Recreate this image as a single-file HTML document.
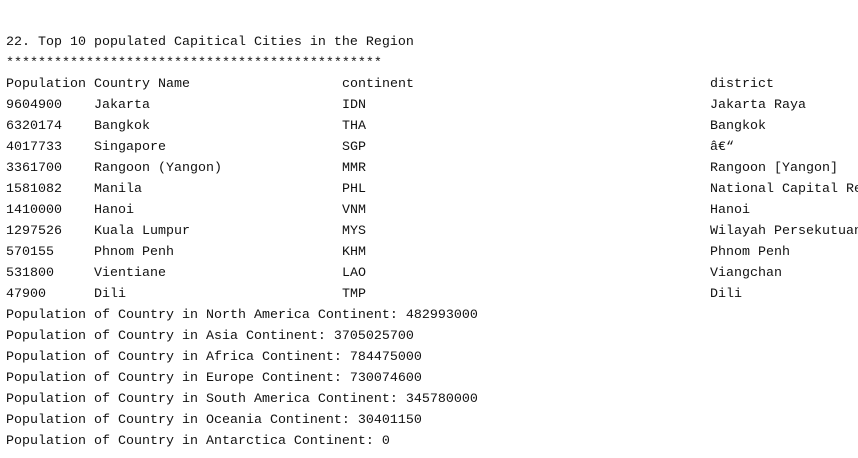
<!DOCTYPE html>
<html><head><meta charset="utf-8"><style>
html,body{margin:0;padding:0;background:#fff;width:858px;height:458px;overflow:hidden}
#wrap{position:absolute;left:0;top:0;width:858px;height:458px;overflow:hidden}
.r{position:absolute;left:0;height:21px;width:858px;overflow:hidden;font-family:"Liberation Mono",monospace;font-size:13.33px;line-height:21px;color:#111;white-space:pre}
.r span{position:absolute;top:0}
.a{left:6px}.b{left:94px}.c{left:342px}.d{left:710px}
</style></head><body>
<div id="wrap">
<div class="r" style="top:32px"><span class="a">22. Top 10 populated Capitical Cities in the Region</span></div>
<div class="r" style="top:53px"><span class="a">***********************************************</span></div>
<div class="r" style="top:74px"><span class="a">Population</span><span class="b">Country Name</span><span class="c">continent</span><span class="d">district</span></div>
<div class="r" style="top:95px"><span class="a">9604900</span><span class="b">Jakarta</span><span class="c">IDN</span><span class="d">Jakarta Raya</span></div>
<div class="r" style="top:116px"><span class="a">6320174</span><span class="b">Bangkok</span><span class="c">THA</span><span class="d">Bangkok</span></div>
<div class="r" style="top:137px"><span class="a">4017733</span><span class="b">Singapore</span><span class="c">SGP</span><span class="d">â€“</span></div>
<div class="r" style="top:158px"><span class="a">3361700</span><span class="b">Rangoon (Yangon)</span><span class="c">MMR</span><span class="d">Rangoon [Yangon]</span></div>
<div class="r" style="top:179px"><span class="a">1581082</span><span class="b">Manila</span><span class="c">PHL</span><span class="d">National Capital Region</span></div>
<div class="r" style="top:200px"><span class="a">1410000</span><span class="b">Hanoi</span><span class="c">VNM</span><span class="d">Hanoi</span></div>
<div class="r" style="top:221px"><span class="a">1297526</span><span class="b">Kuala Lumpur</span><span class="c">MYS</span><span class="d">Wilayah Persekutuan</span></div>
<div class="r" style="top:242px"><span class="a">570155</span><span class="b">Phnom Penh</span><span class="c">KHM</span><span class="d">Phnom Penh</span></div>
<div class="r" style="top:263px"><span class="a">531800</span><span class="b">Vientiane</span><span class="c">LAO</span><span class="d">Viangchan</span></div>
<div class="r" style="top:284px"><span class="a">47900</span><span class="b">Dili</span><span class="c">TMP</span><span class="d">Dili</span></div>
<div class="r" style="top:305px"><span class="a">Population of Country in North America Continent: 482993000</span></div>
<div class="r" style="top:326px"><span class="a">Population of Country in Asia Continent: 3705025700</span></div>
<div class="r" style="top:347px"><span class="a">Population of Country in Africa Continent: 784475000</span></div>
<div class="r" style="top:368px"><span class="a">Population of Country in Europe Continent: 730074600</span></div>
<div class="r" style="top:389px"><span class="a">Population of Country in South America Continent: 345780000</span></div>
<div class="r" style="top:410px"><span class="a">Population of Country in Oceania Continent: 30401150</span></div>
<div class="r" style="top:431px"><span class="a">Population of Country in Antarctica Continent: 0</span></div>
</div>
</body></html>
